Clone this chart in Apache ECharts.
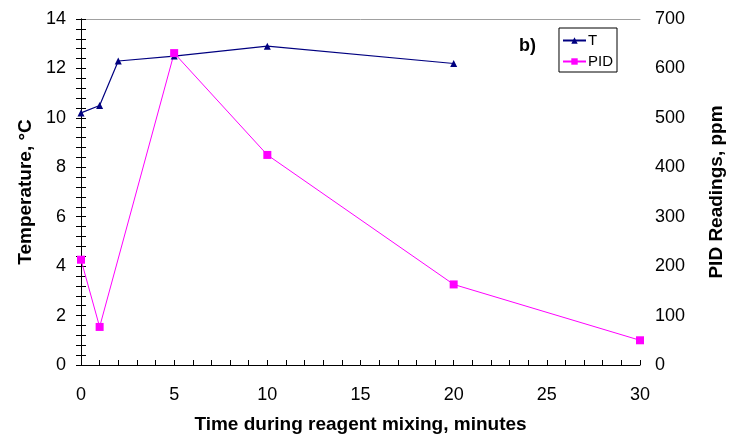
<!DOCTYPE html>
<html>
<head>
<meta charset="utf-8">
<script src="https://cdn.jsdelivr.net/npm/echarts@6/dist/echarts.min.js"></script>
<style>
  html, body { margin: 0; padding: 0; background: #fff; }
  #chart { width: 731px; height: 435px; }
</style>
</head>
<body>
<div id="chart"></div>
<script>
// Data
var tempMinutes = [0, 1, 2, 5, 10, 20];
var tempValues = [10.2, 10.5, 12.3, 12.5, 12.9, 12.2];
var pidMinutes = [0, 1, 5, 10, 20, 30];
var pidValues = [213, 77, 631, 425, 163, 50];

var pairs = function(xs, ys) {
    var out = [];
    for (var i = 0; i < xs.length; i++) out.push([xs[i], ys[i]]);
    return out;
};

var font = "'Liberation Sans', Arial, sans-serif";
var tickLabel = { color: '#000', fontFamily: font, fontSize: 18 };
var axisTitle = { color: '#000', fontFamily: font, fontSize: 19, fontWeight: 'bold' };

var chart = echarts.init(document.getElementById('chart'));
chart.setOption({
    animation: false,
    grid: { left: 81, right: 91, top: 19, bottom: 70, outerBoundsMode: 'none', containLabel: false },
    legend: {
        right: 114, top: 28,
        orient: 'vertical',
        itemGap: 6,
        itemWidth: 23, itemHeight: 8,
        padding: [5, 4, 3, 3],
        borderColor: '#000', borderWidth: 1,
        textStyle: { color: '#000', fontFamily: font, fontSize: 15, padding: [0, 0, 0, -3] },
        data: ['T', 'PID']
    },
    graphic: [{
        type: 'text', left: 519, top: 37,
        style: { text: 'b)', font: 'bold 18px ' + font, fill: '#000' }
    }],
    xAxis: [{
        type: 'value', min: 0, max: 30, interval: 5,
        name: 'Time during reagent mixing, minutes',
        nameLocation: 'middle', nameGap: 50,
        nameTextStyle: axisTitle,
        axisLine: { show: true, lineStyle: { color: '#000', width: 1 } },
        axisTick: { show: true, inside: true, length: 5, lineStyle: { color: '#000' } },
        minorTick: { show: true, splitNumber: 5, length: 5, lineStyle: { color: '#000' } },
        axisLabel: Object.assign({ margin: 21 }, tickLabel),
        splitLine: { show: false }
    }, {
        type: 'value', min: 0, max: 30, position: 'top',
        axisLine: { show: true, onZero: false, lineStyle: { color: '#a0a0a0', width: 1 } },
        axisTick: { show: false }, axisLabel: { show: false }, splitLine: { show: false }
    }],
    yAxis: [{
        type: 'value', min: 0, max: 14, interval: 2,
        name: 'Temperature, °C',
        nameLocation: 'middle', nameGap: 42, nameRotate: 90,
        nameTextStyle: axisTitle,
        axisLine: { show: true, lineStyle: { color: '#000', width: 1 } },
        axisTick: { show: true, inside: true, length: 5, lineStyle: { color: '#000' } },
        minorTick: { show: true, splitNumber: 5, length: 5, lineStyle: { color: '#000' } },
        axisLabel: Object.assign({ margin: 15 }, tickLabel),
        splitLine: { show: false }
    }, {
        type: 'value', min: 0, max: 700, interval: 100, position: 'right',
        name: 'PID Readings, ppm',
        nameLocation: 'middle', nameGap: 67, nameRotate: 90,
        nameTextStyle: axisTitle,
        axisLine: { show: true, lineStyle: { color: '#000', width: 1 } },
        axisTick: { show: true, inside: true, length: 5, lineStyle: { color: '#000' } },
        minorTick: { show: true, splitNumber: 5, length: 5, lineStyle: { color: '#000' } },
        axisLabel: Object.assign({ margin: 15 }, tickLabel),
        splitLine: { show: false }
    }],
    series: [{
        name: 'T', type: 'line',
        xAxisIndex: 0, yAxisIndex: 0,
        data: pairs(tempMinutes, tempValues),
        symbol: 'triangle', symbolSize: 7,
        lineStyle: { color: '#000080', width: 1.2 },
        itemStyle: { color: '#000080' }
    }, {
        name: 'PID', type: 'line',
        xAxisIndex: 0, yAxisIndex: 1,
        data: pairs(pidMinutes, pidValues),
        symbol: 'rect', symbolSize: 8,
        lineStyle: { color: '#ff00ff', width: 1 },
        itemStyle: { color: '#ff00ff' }
    }]
});
</script>
</body>
</html>
